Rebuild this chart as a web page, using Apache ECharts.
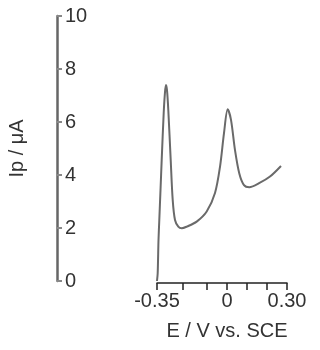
<!DOCTYPE html>
<html>
<head>
<meta charset="utf-8">
<script src="https://cdn.jsdelivr.net/npm/echarts@6/dist/echarts.min.js"></script>
<style>
  html, body { margin: 0; padding: 0; background: #fff; }
  #chart { width: 320px; height: 350px; }
</style>
</head>
<body>
<div id="chart"></div>
<script>
// potential (V vs. SCE) and peak current (uA)
const potential = [-0.35, -0.3465, -0.3425, -0.3385, -0.3325, -0.3265, -0.3165, -0.31, -0.305, -0.30,
  -0.2935, -0.2815, -0.2715, -0.26, -0.2435, -0.2265, -0.2015, -0.1515, -0.1015, -0.06,
  -0.035, -0.015, 0.0035, 0.02, 0.04, 0.0615, 0.085, 0.1115, 0.165, 0.215, 0.27]
const current = [0, 0.30, 1.55, 2.30, 3.43, 4.57, 6.34, 7.13, 7.40, 7.20,
  6.45, 4.57, 3.06, 2.30, 2.05, 1.99, 2.05, 2.24, 2.62, 3.32,
  4.31, 5.58, 6.48, 6.08, 4.94, 4.06, 3.62, 3.54, 3.71, 3.94, 4.34]
const xTicks = [-0.35, -0.22, -0.1, 0, 0.1, 0.2, 0.3]
const xLabels = [-0.35, 0, 0.3]
const yTicks = [0, 2, 4, 6, 8, 10]

const font = 'Liberation Sans, Arial, sans-serif'
const chart = echarts.init(document.getElementById('chart'))
chart.setOption({
  animation: false,
  grid: { left: 157, right: 33, top: 16, bottom: 69 },
  xAxis: {
    type: 'value',
    min: -0.35,
    max: 0.3,
    offset: 2,
    name: 'E / V vs. SCE',
    nameLocation: 'middle',
    nameGap: 38,
    nameTextStyle: { fontFamily: font, fontSize: 20, color: '#333', padding: [0, 0, 0, 10] },
    splitLine: { show: false },
    axisLine: { onZero: false, lineStyle: { color: '#222', width: 1.5 } },
    axisTick: { customValues: xTicks, length: 7, lineStyle: { color: '#222', width: 1.5 } },
    axisLabel: {
      customValues: xLabels,
      fontFamily: font, fontSize: 20, color: '#333', margin: 8,
      formatter: v => v === 0 ? '0' : v.toFixed(2)
    }
  },
  yAxis: {
    type: 'value',
    min: 0,
    max: 10,
    interval: 2,
    offset: 100,
    name: 'Ip / μA',
    nameLocation: 'middle',
    nameGap: 30,
    nameTextStyle: { fontFamily: font, fontSize: 20, color: '#333' },
    splitLine: { show: false },
    axisLine: { show: true, onZero: false, lineStyle: { color: '#666', width: 2.5 } },
    axisTick: { show: true, inside: true, length: 5, lineStyle: { color: '#888', width: 2 } },
    axisLabel: {
      inside: true, margin: 8,
      fontFamily: font, fontSize: 20, color: '#333',
      customValues: yTicks
    }
  },
  series: [{
    type: 'line',
    data: potential.map((e, i) => [e, current[i]]),
    smooth: 0.3,
    showSymbol: false,
    lineStyle: { color: '#6a6a6a', width: 2 }
  }]
})
</script>
</body>
</html>
